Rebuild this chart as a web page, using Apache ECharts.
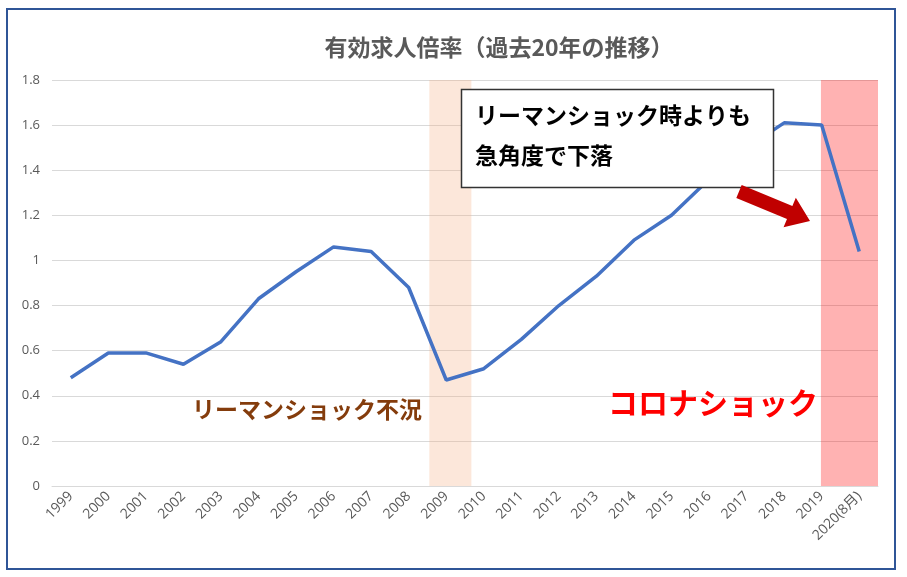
<!DOCTYPE html>
<html>
<head>
<meta charset="utf-8">
<script src="https://cdn.jsdelivr.net/npm/echarts@6/dist/echarts.min.js"></script>
<style>
  html, body { margin: 0; padding: 0; background: #fff; }
  #chart { width: 907px; height: 577px; }
</style>
</head>
<body>
<div id="chart"></div>
<script>
const years = ['1999', '2000', '2001', '2002', '2003', '2004', '2005', '2006', '2007', '2008', '2009',
  '2010', '2011', '2012', '2013', '2014', '2015', '2016', '2017', '2018', '2019', '2020(8月)'];
const ratio = [0.48, 0.59, 0.59, 0.54, 0.64, 0.83, 0.95, 1.06, 1.04, 0.88, 0.47,
  0.52, 0.65, 0.80, 0.93, 1.09, 1.20, 1.36, 1.50, 1.61, 1.60, 1.04];
const yTicks = [0, 0.2, 0.4, 0.6, 0.8, 1, 1.2, 1.4, 1.6, 1.8];

// shaded periods, in category slots (slot i spans [i, i+1])
const lehmanBand = [10.05, 11.17];
const coronaBand = [20.48, 22];

const font = '"Noto Sans CJK JP", "Noto Sans", sans-serif';

// red arrow polygon
const arrowPoints = (() => {
  const sx = 739, sy = 191.5, tx = 810, ty = 221;
  const len = Math.hypot(tx - sx, ty - sy);
  const ux = (tx - sx) / len, uy = (ty - sy) / len;
  const nx = -uy, ny = ux;
  const head = 22, bw = 7, hw = 16;
  const bx = tx - ux * head, by = ty - uy * head;
  return [
    [sx + nx * bw, sy + ny * bw],
    [bx + nx * bw, by + ny * bw],
    [bx + nx * hw, by + ny * hw],
    [tx, ty],
    [bx - nx * hw, by - ny * hw],
    [bx - nx * bw, by - ny * bw],
    [sx - nx * bw, sy - ny * bw]
  ];
})();

const chart = echarts.init(document.getElementById('chart'));

chart.setOption({
  animation: false,
  backgroundColor: '#fff',
  title: {
    text: '有効求人倍率（過去20年の推移）',
    left: 494,
    top: 31,
    textAlign: 'center',
    textStyle: { fontFamily: font, fontSize: 23, fontWeight: 'bold', color: '#595959' }
  },
  grid: { left: 52, right: 29, top: 80, bottom: 91 },
  xAxis: [
    {
      type: 'category',
      data: years,
      boundaryGap: true,
      axisLine: { lineStyle: { color: '#D9D9D9', width: 1 } },
      axisTick: { show: false },
      axisLabel: { rotate: 45, color: '#595959', fontSize: 14, fontFamily: '"Open Sans", ' + font, margin: 8, interval: 0 }
    },
    { type: 'value', min: 0, max: 22, show: false }
  ],
  yAxis: {
    type: 'value',
    min: 0,
    max: 1.8,
    interval: 0.2,
    axisLine: { show: false },
    axisTick: { show: false },
    splitLine: { lineStyle: { color: '#D9D9D9', width: 1 } },
    axisLabel: {
      color: '#595959',
      fontSize: 13,
      fontFamily: '"Open Sans", sans-serif',
      margin: 12,
      formatter: v => yTicks.includes(+v.toFixed(1)) ? String(+v.toFixed(1)) : ''
    }
  },
  series: [
    {
      type: 'line',
      data: ratio,
      symbol: 'none',
      z: 2,
      lineStyle: { color: '#4472C4', width: 3.5 }
    },
    {
      type: 'line',
      xAxisIndex: 1,
      data: [],
      z: 3,
      silent: true,
      markArea: {
        silent: true,
        data: [
          [{ xAxis: lehmanBand[0], itemStyle: { color: 'rgba(244,177,131,0.3)' } }, { xAxis: lehmanBand[1] }],
          [{ xAxis: coronaBand[0], itemStyle: { color: 'rgba(255,0,0,0.3)' } }, { xAxis: coronaBand[1] }]
        ]
      }
    }
  ],
  graphic: [
    {
      type: 'rect',
      shape: { x: 7, y: 9, width: 888, height: 560 },
      style: { fill: null, stroke: '#2F5597', lineWidth: 2 },
      z: 10
    },
    {
      type: 'rect',
      shape: { x: 461.5, y: 89.5, width: 312, height: 98 },
      style: { fill: '#fff', stroke: '#333', lineWidth: 1.5 },
      z: 10
    },
    {
      type: 'text',
      x: 475, y: 115,
      style: { text: 'リーマンショック時よりも', font: 'bold 23px ' + font, fill: '#000', textVerticalAlign: 'middle' },
      z: 11
    },
    {
      type: 'text',
      x: 475, y: 155,
      style: { text: '急角度で下落', font: 'bold 23px ' + font, fill: '#000', textVerticalAlign: 'middle' },
      z: 11
    },
    {
      type: 'polygon',
      shape: { points: arrowPoints },
      style: { fill: '#C00000' },
      z: 11
    },
    {
      type: 'text',
      x: 422, y: 409,
      style: { text: 'リーマンショック不況', font: 'bold 23px ' + font, fill: '#843C0C', textAlign: 'right', textVerticalAlign: 'middle' },
      z: 11
    },
    {
      type: 'text',
      x: 818, y: 403,
      style: { text: 'コロナショック', font: 'bold 30px ' + font, fill: '#FF0000', textAlign: 'right', textVerticalAlign: 'middle' },
      z: 11
    }
  ]
});
</script>
</body>
</html>
